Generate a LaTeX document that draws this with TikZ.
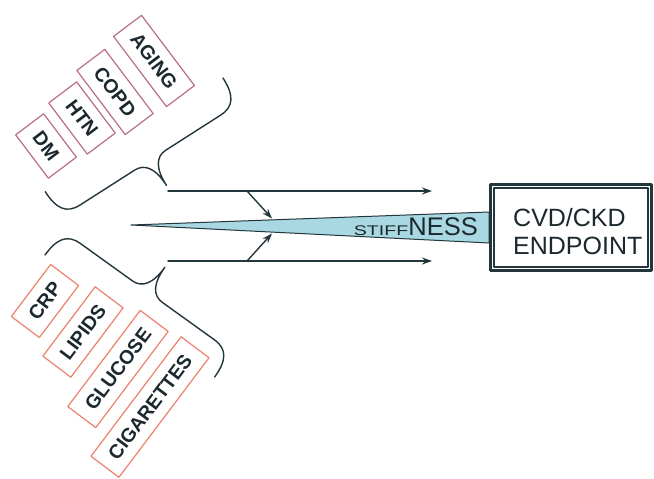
\documentclass[tikz,border=0pt]{standalone}
\usepackage{fontspec}
\setmainfont{Liberation Sans}
\usetikzlibrary{arrows.meta}
\definecolor{linecol}{RGB}{34,54,60}
\definecolor{txtcol}{RGB}{27,40,46}
\definecolor{riskpink}{RGB}{185,110,135}
\definecolor{risksalmon}{RGB}{236,128,108}
\definecolor{stiffcol}{RGB}{170,216,226}
\begin{document}
\begin{tikzpicture}[x=1pt, y=1pt, line join=round, line cap=round, >={Stealth[length=10pt,width=7pt]},
	factor/.style={draw, line width=1.2pt, text=txtcol, font=\fontsize{19.5}{20}\selectfont\bfseries, inner xsep=12pt, inner ysep=0pt, minimum height=35pt},
	upfactor/.style={factor, draw=riskpink, rotate=-53},
	lowfactor/.style={factor, draw=risksalmon, rotate=53},
	endbox/.style={draw=linecol, line width=3pt, fill=white, minimum width=161pt, minimum height=86pt, inner sep=0pt},
	arr/.style={->, draw=linecol, line width=1.4pt}]
	\useasboundingbox (0,0) rectangle (654,-479);
	\node[upfactor] (aging) at (154,-61) {AGING};
	\node[upfactor] (copd) at (115,-92) {COPD};
	\node[upfactor] (htn) at (82,-118) {HTN};
	\node[upfactor] (dm) at (46,-146) {DM};
	\node[lowfactor] (crp) at (45,-301) {CRP};
	\node[lowfactor] (lipids) at (83,-332) {LIPIDS};
	\node[lowfactor] (glucose) at (118,-369) {GLUCOSE};
	\node[lowfactor] (cig) at (150,-407) {CIGARETTES};
	\begin{scope}[shift={(223,-78)}, rotate=-147.4]
		\draw[linecol, line width=1.4pt] (0,0) .. controls (0,20) and (6,30) .. (22,30) -- (87,30) .. controls (99,30) and (105.5,40) .. (105.5,60) .. controls (105.5,40) and (112,30) .. (124,30) -- (189,30) .. controls (205,30) and (211,20) .. (211,0);
	\end{scope}
	\begin{scope}[shift={(45,-255)}, rotate=-35.7]
		\draw[linecol, line width=1.4pt] (0,0) .. controls (0,20) and (6,30) .. (22,30) -- (86,30) .. controls (98,30) and (104.5,40) .. (104.5,60) .. controls (104.5,40) and (111,30) .. (123,30) -- (187,30) .. controls (203,30) and (209,20) .. (209,0);
	\end{scope}
	\filldraw[fill=stiffcol, draw=linecol, line width=1pt] (131,-225) -- (489,-212) -- (489,-243) -- cycle;
	\node[endbox] (endpt) at (571,-227.5) {};
	\draw[linecol, line width=1.2pt] ([shift={(5pt,-5pt)}]endpt.north west) rectangle ([shift={(-5pt,5pt)}]endpt.south east);
	\node[anchor=west, align=left, text=txtcol, font=\fontsize{25}{28}\selectfont, inner sep=0pt] (endlabel) at (513,-232) {CVD/CKD\\ENDPOINT};
	\node[anchor=base east, inner sep=0pt, text=txtcol] (stiff) at (478,-235) {\scalebox{1.4}[1]{\fontsize{14}{14}\selectfont STIFF}\fontsize{25.5}{26}\selectfont NESS};
	\coordinate (topstart) at (168,-191);
	\coordinate (topend) at (432,-191);
	\coordinate (lowstart) at (168,-261);
	\coordinate (lowend) at (432,-261);
	\coordinate (topfork) at (247,-191);
	\coordinate (lowfork) at (247,-261);
	\coordinate (wedgetop) at (272,-218.5);
	\coordinate (wedgelow) at (272,-233.5);
	\draw[arr] (topstart) -- (topend);
	\draw[arr] (lowstart) -- (lowend);
	\draw[arr] (topfork) -- (wedgetop);
	\draw[arr] (lowfork) -- (wedgelow);
\end{tikzpicture}
\end{document}
